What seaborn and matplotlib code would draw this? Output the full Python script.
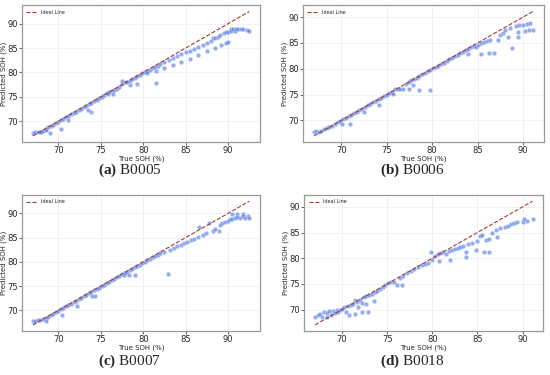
import numpy as np
import pandas as pd
import matplotlib.pyplot as plt
import seaborn as sns

# values (true SOH, predicted SOH)
true_b5 = [67.0, 67.3, 67.6, 67.9, 68.0, 68.2, 68.5, 68.5, 68.8, 69.0, 69.1, 69.4, 69.7, 70.0, 70.3, 70.3,
           70.6, 70.9, 71.2, 71.2, 71.5, 71.8, 72.1, 72.4, 72.7, 73.0, 73.3, 73.5, 73.6, 73.9, 73.9, 74.2,
           74.5, 74.8, 75.1, 75.4, 75.7, 75.8, 76.0, 76.3, 76.5, 76.6, 76.9, 77.2, 77.5, 77.5, 77.8, 78.1,
           78.4, 78.5, 78.7, 79.0, 79.3, 79.3, 79.6, 79.9, 80.2, 80.5, 80.5, 80.8, 81.1, 81.4, 81.5, 81.5,
           81.7, 82.0, 82.5, 82.5, 83.0, 83.5, 83.5, 84.0, 84.5, 84.5, 85.0, 85.5, 85.5, 86.0, 86.5, 86.5,
           87.0, 87.5, 87.5, 88.0, 88.2, 88.5, 88.5, 88.8, 89.0, 89.2, 89.5, 89.8, 89.8, 90.0, 90.0, 90.3,
           90.4, 90.6, 90.8, 90.9, 91.2, 91.5, 91.8, 92.2, 92.5]
pred_b5 = [67.6, 67.7, 67.8, 67.9, 67.7, 68.1, 68.5, 68.3, 68.8, 67.5, 69.0, 69.3, 69.6, 69.9, 70.2, 68.5,
           70.5, 70.8, 71.1, 70.2, 71.4, 71.7, 72.0, 72.3, 72.6, 72.9, 73.2, 72.3, 73.5, 73.8, 72.0, 74.1,
           74.4, 74.7, 75.0, 75.3, 75.8, 75.5, 76.0, 76.2, 75.6, 76.4, 76.7, 77.1, 77.6, 78.2, 78.0, 78.1,
           78.3, 77.5, 78.6, 78.9, 79.2, 77.6, 79.5, 79.8, 80.1, 80.4, 79.8, 80.6, 80.9, 81.1, 80.3, 77.8,
           81.4, 81.7, 82.1, 80.9, 82.5, 82.9, 81.5, 83.3, 83.7, 82.2, 84.1, 84.4, 82.8, 84.8, 85.2, 83.5,
           85.6, 86.0, 84.3, 86.5, 87.0, 87.0, 85.0, 87.3, 87.6, 85.6, 88.0, 88.2, 86.0, 88.3, 86.3, 89.0,
           88.6, 89.0, 88.6, 89.0, 89.0, 89.0, 88.9, 88.8, 88.5]

true_b6 = [67.0, 67.2, 67.5, 67.8, 68.1, 68.4, 68.7, 69.0, 69.3, 69.6, 69.9, 70.1, 70.2, 70.5, 70.8, 71.0,
           71.1, 71.4, 71.7, 72.0, 72.3, 72.5, 72.6, 72.9, 73.2, 73.5, 73.8, 74.1, 74.2, 74.4, 74.7, 75.0,
           75.3, 75.6, 75.7, 75.9, 76.2, 76.5, 76.8, 77.1, 77.4, 77.5, 77.7, 77.9, 78.0, 78.3, 78.5, 78.6,
           78.9, 79.2, 79.5, 79.8, 79.8, 80.1, 80.4, 80.7, 81.0, 81.3, 81.6, 81.9, 82.2, 82.5, 82.8, 83.1,
           83.4, 83.7, 83.9, 84.0, 84.3, 84.6, 84.8, 85.0, 85.4, 85.4, 85.7, 86.0, 86.3, 86.4, 86.8, 87.2,
           87.5, 87.8, 88.0, 88.4, 88.6, 88.8, 89.2, 89.5, 89.5, 89.6, 90.0, 90.2, 90.4, 90.7, 90.8, 91.1]
pred_b6 = [67.8, 67.9, 67.8, 68.0, 68.3, 68.5, 68.8, 69.0, 69.3, 69.6, 69.9, 69.3, 70.2, 70.5, 70.8, 69.3,
           71.1, 71.4, 71.7, 72.0, 72.3, 71.6, 72.6, 72.9, 73.2, 73.5, 73.8, 74.1, 73.0, 74.4, 74.7, 75.0,
           75.3, 75.6, 75.2, 76.0, 76.1, 76.0, 76.1, 77.0, 77.4, 76.0, 77.8, 76.9, 78.0, 78.3, 75.9, 78.6,
           78.9, 79.2, 79.5, 79.8, 75.9, 80.1, 80.3, 80.6, 80.9, 81.2, 81.5, 81.8, 82.1, 82.4, 82.7, 83.0,
           83.3, 83.6, 82.8, 83.9, 84.2, 84.5, 84.2, 84.7, 82.8, 84.9, 85.1, 85.3, 83.1, 85.5, 83.1, 85.6,
           86.6, 87.0, 87.6, 86.1, 87.9, 84.1, 88.2, 86.1, 87.1, 88.4, 88.5, 87.4, 88.6, 87.5, 88.8, 87.5]

true_b7 = [67.0, 67.3, 67.6, 67.9, 68.2, 68.5, 68.5, 68.8, 69.1, 69.4, 69.7, 70.0, 70.3, 70.4, 70.6, 70.9,
           71.2, 71.5, 71.8, 72.1, 72.2, 72.4, 72.7, 73.0, 73.3, 73.6, 73.9, 74.0, 74.2, 74.3, 74.5, 74.8,
           75.1, 75.4, 75.7, 76.0, 76.3, 76.6, 76.9, 77.2, 77.5, 77.7, 77.8, 78.1, 78.3, 78.4, 78.7, 79.0,
           79.0, 79.3, 79.6, 79.9, 80.2, 80.5, 80.8, 81.1, 81.4, 81.7, 82.0, 82.4, 82.9, 83.2, 83.6, 84.0,
           84.4, 84.8, 85.2, 85.6, 86.0, 86.4, 86.6, 87.0, 87.4, 87.8, 88.2, 88.5, 88.9, 89.0, 89.3, 89.6,
           90.0, 90.2, 90.5, 90.5, 90.8, 91.1, 91.1, 91.4, 91.7, 91.7, 92.0, 92.3, 92.5]
pred_b7 = [67.9, 67.9, 68.0, 68.1, 68.2, 68.4, 67.8, 68.7, 69.0, 69.3, 69.6, 69.9, 70.2, 69.0, 70.5, 70.8,
           71.1, 71.4, 71.7, 72.0, 70.9, 72.3, 72.6, 72.9, 73.2, 73.5, 73.8, 73.0, 74.1, 72.9, 74.4, 74.7,
           75.0, 75.3, 75.6, 75.9, 76.2, 76.5, 76.8, 77.1, 77.4, 77.2, 77.7, 78.0, 77.2, 78.3, 78.6, 78.9,
           77.3, 79.1, 79.4, 79.7, 80.0, 80.3, 80.6, 80.9, 81.2, 81.5, 81.8, 82.1, 77.4, 82.5, 82.8, 83.2,
           83.5, 83.8, 84.1, 84.5, 84.8, 85.2, 87.1, 85.6, 86.0, 88.1, 86.4, 86.8, 86.4, 87.5, 88.1, 88.3,
           88.5, 88.8, 89.9, 88.8, 89.0, 89.9, 89.2, 89.0, 89.9, 89.5, 89.0, 89.5, 89.0]

true_b18 = [67.0, 67.3, 67.6, 67.8, 68.0, 68.3, 68.3, 68.6, 68.8, 69.0, 69.2, 69.4, 69.6, 69.8, 70.0, 70.2,
            70.4, 70.7, 70.8, 71.0, 71.2, 71.4, 71.4, 71.6, 71.8, 72.0, 72.2, 72.2, 72.4, 72.6, 72.6, 72.9,
            73.0, 73.3, 73.5, 73.6, 73.9, 74.2, 74.5, 74.8, 75.1, 75.4, 75.7, 76.1, 76.4, 76.6, 76.8, 77.2,
            77.6, 78.0, 78.4, 78.8, 79.2, 79.5, 79.8, 80.0, 80.3, 80.6, 80.7, 80.9, 81.2, 81.5, 81.8, 82.0,
            82.2, 82.5, 82.8, 83.1, 83.4, 83.7, 83.7, 84.0, 84.4, 84.8, 85.0, 85.3, 85.5, 85.7, 86.0, 86.3,
            86.3, 86.6, 87.0, 87.2, 87.5, 88.0, 88.4, 88.7, 89.0, 89.4, 90.0, 90.1, 90.5, 91.1]
pred_b18 = [68.5, 68.9, 69.1, 68.6, 69.5, 69.3, 68.6, 69.7, 69.0, 69.8, 69.4, 69.9, 69.6, 70.0, 70.2, 70.4,
            69.5, 70.6, 69.0, 70.9, 71.0, 69.2, 71.8, 71.4, 70.5, 71.9, 71.3, 69.5, 72.4, 71.1, 72.6, 69.5,
            72.9, 73.1, 71.6, 73.4, 73.7, 74.0, 74.3, 74.8, 75.2, 75.3, 75.4, 74.7, 76.1, 74.8, 76.6, 77.1,
            77.5, 77.9, 78.2, 78.6, 78.9, 79.0, 81.2, 79.6, 80.4, 80.9, 79.4, 81.1, 81.2, 80.9, 81.4, 79.7,
            81.6, 81.7, 82.0, 82.1, 82.3, 80.2, 81.3, 82.7, 83.0, 81.5, 83.3, 84.3, 84.6, 81.3, 83.5, 81.2,
            83.8, 85.0, 85.4, 84.2, 85.8, 86.0, 86.3, 86.6, 86.8, 87.0, 87.1, 87.7, 87.2, 87.6]

panels = [("a", "B0005", true_b5, pred_b5), ("b", "B0006", true_b6, pred_b6),
          ("c", "B0007", true_b7, pred_b7), ("d", "B0018", true_b18, pred_b18)]

sns.set_style("whitegrid")
plt.rcParams['font.family'] = ['DejaVu Sans']
plt.rcParams['mathtext.fontset'] = 'custom'
plt.rcParams['mathtext.rm'] = 'Liberation Serif'
plt.rcParams['mathtext.bf'] = 'Liberation Serif:bold'

fig = plt.figure(figsize=(5.5, 3.75), dpi=100)
boxes = [[0.04, 0.621, 0.433, 0.365], [0.551, 0.621, 0.438, 0.365],
         [0.04, 0.117, 0.433, 0.363], [0.553, 0.117, 0.435, 0.363]]
caps = [(0.236, 0.522), (0.75, 0.522), (0.236, 0.012), (0.75, 0.012)]

for (tag, name, t, p), box, cap in zip(panels, boxes, caps):
    ax = fig.add_axes(box)
    df = pd.DataFrame({'true': t, 'pred': p})
    sns.scatterplot(data=df, x='true', y='pred', ax=ax, color='#5b6fe8', alpha=0.6,
                    s=10, edgecolor='#c9f3ff', linewidth=0.4)
    lo, hi = df['true'].min(), df['true'].max()
    ideal = pd.DataFrame({'x': [lo, hi], 'y': [lo, hi]})
    sns.lineplot(data=ideal, x='x', y='y', ax=ax, color='#a23b2c', linestyle='--',
                 linewidth=0.8, label='Ideal Line')
    ax.set_xticks([70, 75, 80, 85, 90])
    ax.set_yticks([70, 75, 80, 85, 90])
    ax.set_xlabel('True SOH (%)', fontsize=5, labelpad=0.5)
    ax.set_ylabel('Predicted SOH (%)', fontsize=5, labelpad=0.5)
    ax.tick_params(labelsize=6, length=2, width=0.5, pad=1, left=True, bottom=True)
    ax.grid(color='#ececec', linewidth=0.5)
    for s in ax.spines.values():
        s.set_color('#9a9a9a')
        s.set_linewidth(0.9)
    ax.legend(loc='upper left', fontsize=3.5, frameon=False, handlelength=2.2)
    fig.text(cap[0], cap[1], r'$\mathbf{(' + tag + r')}$ ' + name, ha='center', va='bottom',
             fontsize=11, family='Liberation Serif')

fig.savefig('out.png', dpi=100)
